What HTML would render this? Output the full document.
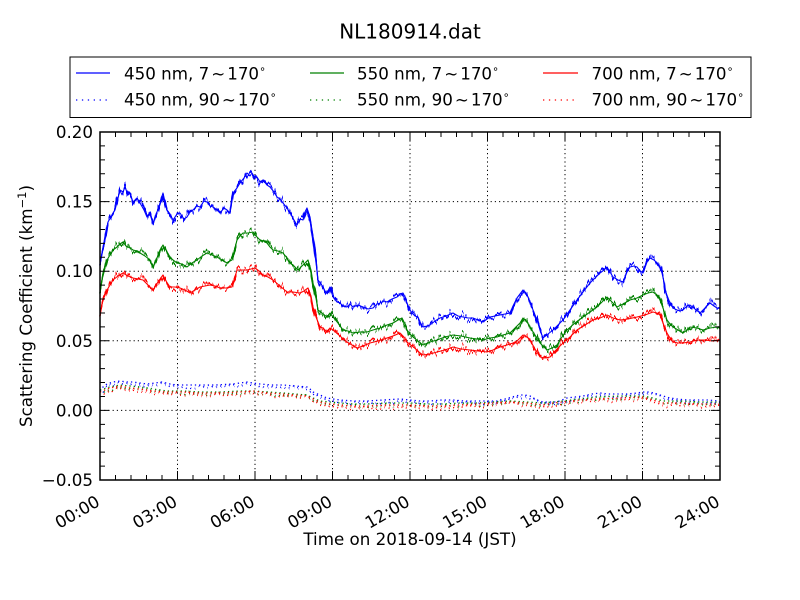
<!DOCTYPE html>
<html>
<head>
<meta charset="utf-8">
<style>
  html, body { margin: 0; padding: 0; background: #ffffff; }
  svg { display: block; }
  text { font-family: "DejaVu Sans", "Liberation Sans", sans-serif; fill: #000; }
</style>
</head>
<body>
<svg width="800" height="600" viewBox="0 0 800 600" xmlns="http://www.w3.org/2000/svg" xmlns:xlink="http://www.w3.org/1999/xlink">
  <defs>
    <filter id="jit" x="-2%" y="-25%" width="104%" height="150%" color-interpolation-filters="sRGB">
      <feTurbulence type="fractalNoise" baseFrequency="0.45 0.002" numOctaves="2" seed="7" result="t"/>
      <feColorMatrix in="t" type="matrix" values="0 0 0 0 0.5  0 1 0 0 0  0 0 0 0 0  0 0 0 0 1" result="m"/>
      <feDisplacementMap in="SourceGraphic" in2="m" scale="16" xChannelSelector="R" yChannelSelector="G"/>
    </filter>
    <filter id="jit2" x="-2%" y="-40%" width="104%" height="180%" color-interpolation-filters="sRGB">
      <feTurbulence type="fractalNoise" baseFrequency="0.6 0.002" numOctaves="1" seed="3" result="t"/>
      <feColorMatrix in="t" type="matrix" values="0 0 0 0 0.5  0 1 0 0 0  0 0 0 0 0  0 0 0 0 1" result="m"/>
      <feDisplacementMap in="SourceGraphic" in2="m" scale="10" xChannelSelector="R" yChannelSelector="G"/>
    </filter>
    <polyline id="b1" points="100,262 104,245 108,222 112,215 115,210 118,198 120,190 123,192 125,187 128,195 130,193 133,202 137,198 140,203 144,210 147,217 150,212 153,223 157,212 160,203 163,193 165,202 167,210 170,214 173,220 177,214 180,213 184,219 187,217 190,212 193,210 197,206 200,207 204,201 207,202 210,206 213,207 217,210 220,213 224,208 227,210 230,213 233,193 237,188 240,183 244,178 247,173 250,176 252,173 255,178 257,177 260,182 263,180 267,185 270,187 274,192 277,197 280,199 283,203 287,208 290,213 294,220 297,225 300,219 303,220 305,212 307,208 310,217 313,237 316,262 318,280 321,284 323,287 325,291 327,293 330,287 333,297 337,302 340,303 343,306 347,307 350,304 353,307 358,305 363,307 368,309 373,308 377,304 380,303 384,301 387,302 392,299 397,297 400,294 403,293 405,297 407,303 410,310 412,313 415,316 418,317 420,322 423,327 427,326 430,325 435,321 440,318 446,316 453,313 458,316 463,317 468,318 473,318 478,320 483,322 487,319 490,317 495,316 500,315 505,314 510,313 513,306 517,298 520,294 523,290 526,294 528,297 531,304 533,310 537,320 540,330 543,338 548,334 553,330 558,325 563,320 570,310 577,300 583,292 590,283 595,278 600,273 604,270 607,267 610,272 613,277 618,280 623,282 627,272 630,267 634,266 637,267 640,271 643,273 647,262 650,258 654,260 657,263 660,268 662,273 664,282 665,290 668,298 670,303 673,308 677,310 680,311 683,310 687,306 690,305 695,309 700,313 705,308 710,303 714,306 717,308 720,308"/>
    <polyline id="g1" points="100,290 103,275 107,260 110,255 113,250 117,247 120,244 123,242 126,246 130,248 133,250 137,251 140,253 145,256 150,260 153,267 157,258 160,250 163,245 166,250 170,257 173,260 177,263 182,264 187,267 192,263 197,260 202,256 207,253 212,255 217,257 222,260 227,263 230,261 232,260 235,248 237,240 240,236 243,233 248,233 253,232 256,236 260,240 264,241 267,243 270,247 273,250 278,251 283,253 287,258 290,263 294,266 298,270 303,265 308,260 311,270 313,283 316,298 318,310 322,313 327,317 330,313 333,317 338,323 343,330 348,331 353,333 360,332 367,332 373,330 380,328 387,325 393,323 398,320 402,318 405,324 407,330 410,334 413,337 418,341 423,345 430,342 437,340 445,337 453,335 461,336 470,338 477,339 483,340 490,338 497,337 503,335 510,333 515,328 520,323 523,318 527,322 530,327 535,335 540,343 544,347 547,350 552,348 557,345 562,337 567,330 575,323 583,317 590,312 597,307 602,302 607,297 612,302 617,307 623,304 630,300 637,298 643,295 648,293 653,292 657,295 660,300 663,308 667,320 670,324 673,327 678,330 683,333 687,330 690,327 697,328 703,330 710,328 717,327 720,328"/>
    <polyline id="r1" points="100,313 103,300 107,290 110,285 113,280 118,276 123,273 128,276 133,278 138,279 143,280 148,285 153,290 158,282 163,275 166,281 170,287 175,287 180,288 185,290 190,293 195,290 200,287 205,286 210,285 215,286 220,288 226,288 232,287 235,277 237,270 242,270 247,270 251,269 255,268 259,271 263,275 268,277 273,280 280,286 287,292 293,292 300,293 304,291 308,288 311,296 313,307 316,317 320,327 323,328 327,332 330,328 333,330 340,336 347,342 352,345 357,348 363,346 370,343 378,341 387,338 393,336 400,333 404,337 407,342 412,346 417,350 420,353 423,355 430,354 437,352 445,350 453,347 461,349 470,350 478,351 487,352 493,350 500,347 507,345 513,343 517,341 520,338 523,335 527,337 530,340 535,349 540,357 545,358 550,357 556,350 563,343 570,337 577,330 585,325 593,320 600,318 607,315 613,318 620,320 628,319 637,317 645,315 653,312 657,313 660,315 663,323 667,333 670,338 673,342 678,343 683,343 690,342 697,340 705,340 712,341 717,340 720,340"/>
    <polyline id="b2" points="100,392 103,388 107,385 113,383 120,382 127,383 133,383 140,384 147,385 155,384 162,383 170,385 177,386 188,386 200,386 215,386 233,385 240,384 247,383 253,384 260,385 272,386 283,386 295,387 307,388 310,390 313,393 320,396 327,399 333,400 340,401 353,402 367,402 383,401 400,400 410,401 420,402 430,402 442,401 453,401 465,402 477,402 487,402 497,402 505,400 512,398 520,396 525,396 530,397 537,401 543,403 550,403 557,403 562,401 567,399 575,398 583,397 592,395 600,394 608,395 617,395 627,395 637,394 643,393 650,393 657,395 663,397 670,399 677,400 687,401 697,401 708,401 719,402"/>
    <polyline id="g2" points="100,391 110,388 120,386 130,387 140,388 153,390 167,392 183,392 200,393 220,393 240,392 253,392 268,393 283,394 295,395 307,396 313,399 320,402 330,403 340,404 353,405 367,405 388,404 410,404 427,405 443,405 460,404 477,404 493,403 510,402 527,403 543,404 553,403 563,402 580,400 597,398 620,397 643,397 653,399 663,402 680,402 700,403 719,403"/>
    <polyline id="r2" points="100,393 110,389 120,387 130,389 140,390 153,392 167,393 183,393 200,394 220,394 240,393 253,392 268,394 283,395 295,396 307,397 313,400 320,403 330,405 340,406 353,407 367,407 388,406 410,406 427,407 443,407 460,406 477,405 493,404 510,403 527,404 543,406 553,404 563,403 580,401 597,400 620,399 643,398 653,401 663,404 680,404 700,405 719,405"/>
  </defs>
  <rect x="0" y="0" width="800" height="600" fill="#ffffff"/>

  <!-- Title -->
  <text x="410" y="38.3" font-size="20" text-anchor="middle">NL180914.dat</text>

  <!-- Grid -->
  <g stroke="#000" stroke-width="1" stroke-dasharray="1.2 3" fill="none">
    <path d="M177.5 132V480M255 132V480M332.5 132V480M410 132V480M487.5 132V480M565 132V480M642.5 132V480"/>
    <path d="M100 201.6H720M100 271.2H720M100 340.8H720M100 410.4H720"/>
  </g>

  <!-- 450 nm solid -->
  <g fill="none" stroke="#0000ff" stroke-linejoin="round">
    <use href="#b1" xlink:href="#b1" stroke-width="1.1"/>
    <use href="#b1" xlink:href="#b1" stroke-width="1.8" filter="url(#jit)"/>
  </g>
  <!-- 450 nm dotted -->
  <g fill="none" stroke="#0000ff" stroke-width="1.3" stroke-dasharray="1.3 3">
    <use href="#b2" xlink:href="#b2" transform="translate(0,-1)"/>
    <use href="#b2" xlink:href="#b2" transform="translate(1.5,1)" stroke-dashoffset="2" filter="url(#jit2)"/>
  </g>

  <!-- 550 nm solid -->
  <g fill="none" stroke="#008000" stroke-linejoin="round">
    <use href="#g1" xlink:href="#g1" stroke-width="1.1"/>
    <use href="#g1" xlink:href="#g1" stroke-width="1.8" filter="url(#jit)"/>
  </g>
  <!-- 550 nm dotted -->
  <g fill="none" stroke="#008000" stroke-width="1.3" stroke-dasharray="1.3 3">
    <use href="#g2" xlink:href="#g2" transform="translate(0,-1)"/>
    <use href="#g2" xlink:href="#g2" transform="translate(1.5,1)" stroke-dashoffset="2" filter="url(#jit2)"/>
  </g>

  <!-- 700 nm solid -->
  <g fill="none" stroke="#ff0000" stroke-linejoin="round">
    <use href="#r1" xlink:href="#r1" stroke-width="1.1"/>
    <use href="#r1" xlink:href="#r1" stroke-width="1.8" filter="url(#jit)"/>
  </g>
  <!-- 700 nm dotted -->
  <g fill="none" stroke="#ff0000" stroke-width="1.3" stroke-dasharray="1.3 3">
    <use href="#r2" xlink:href="#r2" transform="translate(0,-1)"/>
    <use href="#r2" xlink:href="#r2" transform="translate(1.5,1.2)" stroke-dashoffset="2" filter="url(#jit2)"/>
  </g>

  <!-- Ticks (inward) -->
  <g stroke="#000" stroke-width="1" fill="none">
    <path d="M177.5 480v-9M255 480v-9M332.5 480v-9M410 480v-9M487.5 480v-9M565 480v-9M642.5 480v-9"/>
    <path d="M177.5 132v9M255 132v9M332.5 132v9M410 132v9M487.5 132v9M565 132v9M642.5 132v9"/>
    <path d="M115.5 480v-5M131 480v-5M146.5 480v-5M162 480v-5M193 480v-5M208.5 480v-5M224 480v-5M239.5 480v-5M270.5 480v-5M286 480v-5M301.5 480v-5M317 480v-5M348 480v-5M363.5 480v-5M379 480v-5M394.5 480v-5M425.5 480v-5M441 480v-5M456.5 480v-5M472 480v-5M503 480v-5M518.5 480v-5M534 480v-5M549.5 480v-5M580.5 480v-5M596 480v-5M611.5 480v-5M627 480v-5M658 480v-5M673.5 480v-5M689 480v-5M704.5 480v-5"/>
    <path d="M115.5 132v5M131 132v5M146.5 132v5M162 132v5M193 132v5M208.5 132v5M224 132v5M239.5 132v5M270.5 132v5M286 132v5M301.5 132v5M317 132v5M348 132v5M363.5 132v5M379 132v5M394.5 132v5M425.5 132v5M441 132v5M456.5 132v5M472 132v5M503 132v5M518.5 132v5M534 132v5M549.5 132v5M580.5 132v5M596 132v5M611.5 132v5M627 132v5M658 132v5M673.5 132v5M689 132v5M704.5 132v5"/>
    <path d="M100 201.6h9M100 271.2h9M100 340.8h9M100 410.4h9"/>
    <path d="M720 201.6h-9M720 271.2h-9M720 340.8h-9M720 410.4h-9"/>
    <path d="M100 145.92h5M100 159.84h5M100 173.76h5M100 187.68h5M100 215.52h5M100 229.44h5M100 243.36h5M100 257.28h5M100 285.12h5M100 299.04h5M100 312.96h5M100 326.88h5M100 354.72h5M100 368.64h5M100 382.56h5M100 396.48h5M100 424.32h5M100 438.24h5M100 452.16h5M100 466.08h5"/>
    <path d="M720 145.92h-5M720 159.84h-5M720 173.76h-5M720 187.68h-5M720 215.52h-5M720 229.44h-5M720 243.36h-5M720 257.28h-5M720 285.12h-5M720 299.04h-5M720 312.96h-5M720 326.88h-5M720 354.72h-5M720 368.64h-5M720 382.56h-5M720 396.48h-5M720 424.32h-5M720 438.24h-5M720 452.16h-5M720 466.08h-5"/>
  </g>

  <!-- Axes frame -->
  <rect x="100" y="132" width="620" height="348" fill="none" stroke="#000" stroke-width="1.5"/>

  <!-- Y tick labels -->
  <g font-size="16.7" text-anchor="end">
    <text x="93" y="138">0.20</text>
    <text x="93" y="207.6">0.15</text>
    <text x="93" y="277.2">0.10</text>
    <text x="93" y="346.8">0.05</text>
    <text x="93" y="416.4">0.00</text>
    <text x="93" y="486">−0.05</text>
  </g>

  <!-- X tick labels (rotated 30deg) -->
  <g font-size="16.7" text-anchor="end">
    <text x="101" y="505" transform="rotate(-30 101 505)">00:00</text>
    <text x="178.5" y="505" transform="rotate(-30 178.5 505)">03:00</text>
    <text x="256" y="505" transform="rotate(-30 256 505)">06:00</text>
    <text x="333.5" y="505" transform="rotate(-30 333.5 505)">09:00</text>
    <text x="411" y="505" transform="rotate(-30 411 505)">12:00</text>
    <text x="488.5" y="505" transform="rotate(-30 488.5 505)">15:00</text>
    <text x="566" y="505" transform="rotate(-30 566 505)">18:00</text>
    <text x="643.5" y="505" transform="rotate(-30 643.5 505)">21:00</text>
    <text x="721" y="505" transform="rotate(-30 721 505)">24:00</text>
  </g>

  <!-- Axis labels -->
  <text x="410" y="545" font-size="16.7" text-anchor="middle">Time on 2018-09-14 (JST)</text>
  <text x="0" y="0" font-size="16.7" text-anchor="middle" transform="translate(32 306) rotate(-90)">Scattering Coefficient (km<tspan font-size="11.5" dy="-6">−1</tspan><tspan dy="6">)</tspan></text>

  <!-- Legend -->
  <rect x="70" y="57" width="681" height="60.5" fill="#ffffff" stroke="#000" stroke-width="1"/>
  <g stroke-width="1.2" fill="none">
    <line x1="76" y1="73" x2="110" y2="73" stroke="#0000ff"/>
    <line x1="76" y1="100" x2="110" y2="100" stroke="#0000ff" stroke-dasharray="1.3 4.6"/>
    <line x1="310" y1="73" x2="344" y2="73" stroke="#008000"/>
    <line x1="310" y1="100" x2="344" y2="100" stroke="#008000" stroke-dasharray="1.3 4.6"/>
    <line x1="543" y1="73" x2="578" y2="73" stroke="#ff0000"/>
    <line x1="543" y1="100" x2="578" y2="100" stroke="#ff0000" stroke-dasharray="1.3 4.6"/>
  </g>
  <g font-size="16.7">
    <text x="124" y="79.3">450 nm, 7<tspan dx="2">∼</tspan><tspan dx="2">170</tspan><tspan font-size="11" dy="-7">∘</tspan></text>
    <text x="124" y="105.7">450 nm, 90<tspan dx="2">∼</tspan><tspan dx="2">170</tspan><tspan font-size="11" dy="-7">∘</tspan></text>
    <text x="357" y="79.3">550 nm, 7<tspan dx="2">∼</tspan><tspan dx="2">170</tspan><tspan font-size="11" dy="-7">∘</tspan></text>
    <text x="357" y="105.7">550 nm, 90<tspan dx="2">∼</tspan><tspan dx="2">170</tspan><tspan font-size="11" dy="-7">∘</tspan></text>
    <text x="591.5" y="79.3">700 nm, 7<tspan dx="2">∼</tspan><tspan dx="2">170</tspan><tspan font-size="11" dy="-7">∘</tspan></text>
    <text x="591.5" y="105.7">700 nm, 90<tspan dx="2">∼</tspan><tspan dx="2">170</tspan><tspan font-size="11" dy="-7">∘</tspan></text>
  </g>
</svg>
</body>
</html>
